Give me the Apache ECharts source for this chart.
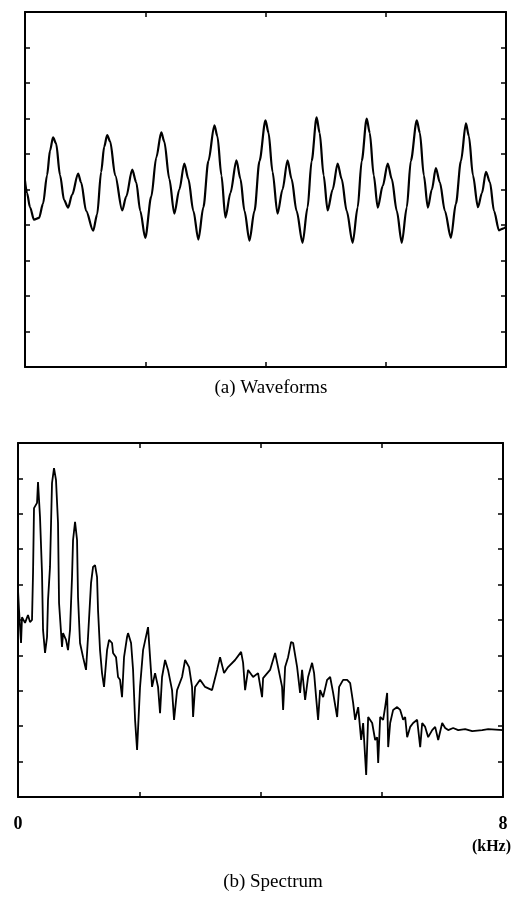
<!DOCTYPE html>
<html>
<head>
<meta charset="utf-8">
<script src="https://cdn.jsdelivr.net/npm/echarts@6/dist/echarts.min.js"></script>
<style>
  html, body { margin: 0; padding: 0; background: #fff; }
  #chart { width: 515px; height: 897px; }
</style>
</head>
<body>
<div id="chart"></div>
<script>
// (a) waveform: time (samples) vs amplitude (0..100 = full frame)
const waveTime = [
  0, 2, 5, 9, 14, 18, 22, 25, 28, 31,
  35, 39, 43, 47, 53, 56, 61, 68, 72, 76,
  79, 82, 85, 90, 97, 101, 107, 111, 115, 120,
  126, 131, 136, 139, 144, 149, 154, 159, 163, 168,
  173, 178, 183, 189, 192, 196, 200, 205, 211, 215,
  219, 224, 229, 234, 240, 243, 247, 252, 257, 262,
  266, 271, 277, 282, 286, 291, 294, 298, 302, 307,
  312, 316, 321, 327, 332, 336, 341, 344, 348, 352,
  357, 362, 366, 371, 376, 381, 385, 391, 394, 398,
  402, 406, 410, 414, 419, 425, 430, 435, 440, 443,
  447, 452, 456, 460, 464, 468, 473, 477, 480
];
const waveAmp = [
  52.5, 49, 45, 41.5, 42, 46, 54, 61, 64.7, 63,
  54, 47, 44.9, 48.5, 54.5, 52, 44, 38.4, 43, 55,
  62, 65.3, 63.5, 54, 44.1, 48, 55.6, 52, 44, 36.4,
  48, 59, 66.1, 63.5, 53, 43.2, 50, 57.3, 53, 44,
  35.9, 45, 58, 68.1, 65, 54, 42.1, 49, 58.2, 53,
  44, 35.6, 44, 58, 69.5, 66, 55, 43.2, 50, 58.2,
  53, 44, 35, 45, 58, 70.3, 66, 54, 44.1, 50,
  57.3, 53, 44, 35, 45, 58, 70, 66, 54, 44.9,
  51, 57.3, 53, 44, 35, 45, 58, 69.5, 66, 54,
  44.9, 50, 56, 52, 44, 36.4, 46, 58, 68.6, 65,
  54, 45, 49, 55, 52, 44, 38.5, 39, 39.5
];

// (b) spectrum: frequency (kHz) vs level (0..100 = full frame)
const specFreq = [
  0, 0.017, 0.05, 0.066, 0.116, 0.165, 0.198, 0.231, 0.248, 0.264,
  0.314, 0.33, 0.347, 0.363, 0.396, 0.413, 0.446, 0.479, 0.495, 0.528,
  0.561, 0.594, 0.627, 0.66, 0.677, 0.726, 0.743, 0.792, 0.825, 0.858,
  0.891, 0.908, 0.941, 0.974, 0.99, 1.023, 1.073, 1.122, 1.155, 1.205,
  1.238, 1.271, 1.304, 1.32, 1.353, 1.386, 1.419, 1.469, 1.502, 1.551,
  1.568, 1.617, 1.65, 1.683, 1.716, 1.749, 1.799, 1.815, 1.865, 1.898,
  1.931, 1.964, 2.013, 2.063, 2.145, 2.178, 2.211, 2.261, 2.31, 2.343,
  2.376, 2.426, 2.475, 2.541, 2.574, 2.624, 2.706, 2.756, 2.822, 2.871,
  2.888, 2.921, 3.003, 3.086, 3.201, 3.284, 3.333, 3.399, 3.465, 3.581,
  3.68, 3.713, 3.746, 3.795, 3.878, 3.96, 4.026, 4.043, 4.158, 4.241,
  4.29, 4.356, 4.373, 4.406, 4.455, 4.505, 4.538, 4.604, 4.653, 4.686,
  4.736, 4.785, 4.851, 4.884, 4.917, 4.95, 4.983, 5.033, 5.099, 5.149,
  5.198, 5.264, 5.297, 5.363, 5.429, 5.479, 5.528, 5.561, 5.611, 5.66,
  5.693, 5.743, 5.776, 5.842, 5.891, 5.924, 5.941, 5.974, 6.023, 6.056,
  6.089, 6.106, 6.139, 6.188, 6.254, 6.304, 6.353, 6.386, 6.419, 6.469,
  6.518, 6.584, 6.634, 6.667, 6.716, 6.766, 6.832, 6.881, 6.931, 6.997,
  7.046, 7.096, 7.178, 7.261, 7.376, 7.492, 7.657, 7.756, 8.0
];
const specLevel = [
  58.5, 52.8, 43.5, 50.8, 49.2, 51.4, 49.4, 50.0, 63.3, 81.6,
  83.1, 89.0, 88.7, 79.1, 63.3, 47.2, 40.7, 45.2, 55.6, 65.0,
  88.7, 92.9, 89.5, 77.4, 54.8, 42.4, 46.3, 44.4, 41.5, 47.2,
  62.1, 72.6, 77.7, 72.6, 56.5, 43.5, 39.5, 35.9, 45.2, 60.5,
  65.0, 65.5, 62.1, 52.8, 41.5, 35.0, 31.1, 41.5, 44.4, 43.5,
  40.7, 39.5, 33.9, 33.1, 28.2, 39.5, 45.2, 46.3, 43.5, 35.9,
  21.8, 13.3, 31.1, 41.5, 48.0, 39.5, 31.1, 35.0, 31.1, 23.7,
  33.9, 38.7, 35.9, 30.2, 21.8, 30.2, 33.9, 38.7, 36.7, 31.1,
  22.6, 31.1, 33.1, 31.1, 30.2, 35.9, 39.5, 35.0, 36.7, 38.7,
  41.0, 37.9, 30.2, 35.9, 33.9, 35.0, 28.2, 33.6, 35.9, 40.7,
  36.7, 31.1, 24.6, 36.7, 39.5, 43.8, 43.5, 36.7, 29.4, 35.9,
  27.4, 33.9, 37.9, 35.0, 28.2, 21.8, 30.2, 28.2, 33.1, 33.9,
  29.4, 22.6, 31.1, 33.1, 33.1, 32.2, 26.6, 21.8, 25.4, 16.1,
  20.9, 6.2, 22.6, 20.9, 16.1, 16.9, 9.6, 22.6, 21.8, 25.4,
  29.4, 14.1, 20.9, 24.6, 25.4, 24.6, 21.8, 22.6, 16.9, 19.8,
  20.9, 21.8, 14.1, 20.9, 19.8, 16.9, 18.9, 19.8, 16.1, 20.9,
  19.5, 18.9, 19.5, 18.9, 19.2, 18.6, 18.9, 19.2, 18.9
];

const captions = ["(a) Waveforms", "(b) Spectrum"];
const freqEndLabels = [0, 8];

const chart = echarts.init(document.getElementById("chart"), null, { renderer: "canvas" });

const frameLine = { show: true, onZero: false, lineStyle: { color: "#000", width: 2 } };
const inTick = (len) => ({ show: true, inside: true, length: len, lineStyle: { color: "#000", width: 1.5 } });
const serif = "'Liberation Serif', 'Times New Roman', serif";

// builds one x axis (bottom or top) of a framed panel
function xAx(grid, pos, min, max, interval, label) {
  return {
    type: "value", gridIndex: grid, position: pos, min, max, interval,
    axisLine: frameLine, axisTick: inTick(5), splitLine: { show: false },
    axisLabel: label || { show: false },
  };
}
function yAx(grid, pos) {
  return {
    type: "value", gridIndex: grid, position: pos, min: 0, max: 100, interval: 10,
    axisLine: frameLine, axisTick: inTick(5), splitLine: { show: false },
    axisLabel: { show: false },
  };
}

const option = {
  backgroundColor: "#fff",
  animation: false,
  grid: [
    { left: 25, top: 12, width: 481, height: 355 },
    { left: 18, top: 443, width: 485, height: 354 },
  ],
  xAxis: [
    xAx(0, "bottom", 0, 480, 120),
    xAx(0, "top", 0, 480, 120),
    xAx(1, "bottom", 0, 8, 2, {
      show: true, margin: 18, color: "#000",
      fontFamily: serif, fontWeight: "bold", fontSize: 18,
      showMinLabel: true, showMaxLabel: true,
      formatter: (v) => (freqEndLabels.includes(v) ? String(v) : ""),
    }),
    xAx(1, "top", 0, 8, 2),
  ],
  yAxis: [yAx(0, "left"), yAx(0, "right"), yAx(1, "left"), yAx(1, "right")],
  title: [
    { text: captions[0], left: 266, top: 374, textAlign: "center",
      textStyle: { fontFamily: serif, fontWeight: "normal", fontSize: 19, color: "#000" } },
    { text: captions[1], left: 268, top: 868, textAlign: "center",
      textStyle: { fontFamily: serif, fontWeight: "normal", fontSize: 19, color: "#000" } },
  ],
  graphic: [
    { type: "text", right: 4, top: 839,
      style: { text: "(kHz)", font: "bold 16px " + serif, fill: "#000" } },
  ],
  series: [
    {
      type: "line", xAxisIndex: 0, yAxisIndex: 0, showSymbol: false,
      smooth: 0.3, smoothMonotone: "x",
      data: waveTime.map((t, i) => [t, waveAmp[i]]),
      lineStyle: { color: "#000", width: 2.2 },
    },
    {
      type: "line", xAxisIndex: 2, yAxisIndex: 2, showSymbol: false,
      data: specFreq.map((f, i) => [f, specLevel[i]]),
      lineStyle: { color: "#000", width: 1.8 },
    },
  ],
};

chart.setOption(option);
</script>
</body>
</html>
